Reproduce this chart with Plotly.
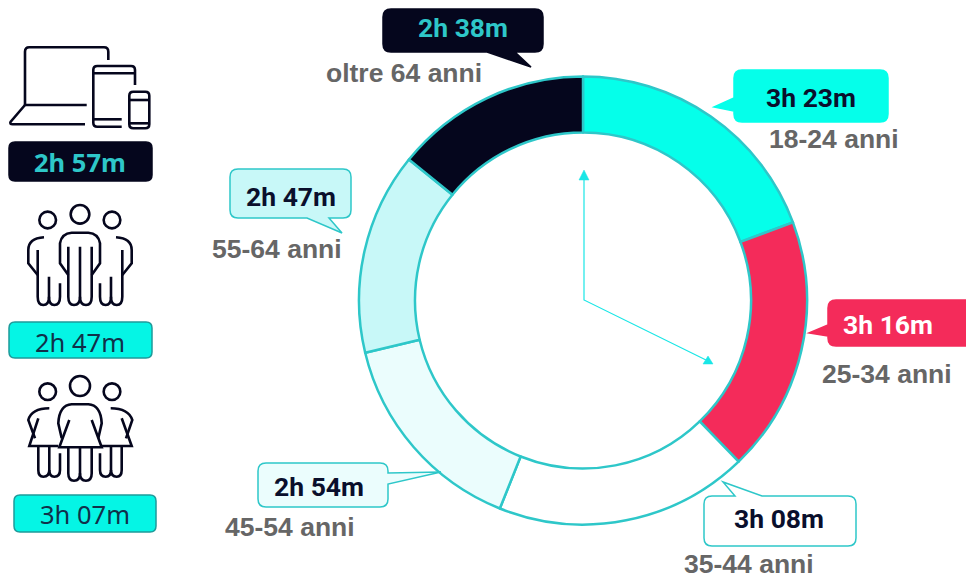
import plotly.graph_objects as go

# ---- data ----
age_groups = ["18-24 anni", "25-34 anni", "35-44 anni", "45-54 anni", "55-64 anni", "oltre 64 anni"]
time_labels = ["3h 23m", "3h 16m", "3h 08m", "2h 54m", "2h 47m", "2h 38m"]
# share of the ring (degrees of arc per slice)
arc_degrees = [69.6, 66.4, 65.8, 54.7, 52.5, 51.0]
slice_colors = ["#05FFEA", "#F42B5A", "#FFFFFF", "#EBFDFD", "#C8F8F8", "#05061D"]
side_values = ["2h 57m", "2h 47m", "3h 07m"]

TEAL = "#2EC7C9"
DARK = "#05061D"
INK = "#0A0F2C"
CYAN = "#05FFEA"
GREY = "#666666"
W, H = 966, 579
CX, CY, R = 583, 300.5, 224

fig = go.Figure()
fig.add_trace(go.Pie(
    values=arc_degrees, labels=age_groups, sort=False, direction="clockwise", rotation=0,
    hole=0.75, textinfo="none", hoverinfo="label",
    marker=dict(colors=slice_colors, line=dict(color=TEAL, width=2.5)),
    domain=dict(x=[(CX - R) / W, (CX + R) / W], y=[1 - (CY + R) / H, 1 - (CY - R) / H]),
    showlegend=False,
))

shapes, annos = [], []


def bubble(x0, y0, x1, y1, tail, fill, line, lw=1.5, r=8):
    """Rounded rectangle with a tail. tail = (side, a, tip_x, tip_y, b)."""
    side, a, tx, ty, b = tail
    d = f"M{x0+r},{y0} "
    if side == "top":
        d += f"L{a},{y0} L{tx},{ty} L{b},{y0} "
    d += f"L{x1-r},{y0} Q{x1},{y0} {x1},{y0+r} L{x1},{y1-r} Q{x1},{y1} {x1-r},{y1} "
    if side == "bottom":
        d += f"L{b},{y1} L{tx},{ty} L{a},{y1} "
    d += f"L{x0+r},{y1} Q{x0},{y1} {x0},{y1-r} "
    if side == "left":
        d += f"L{x0},{b} L{tx},{ty} L{x0},{a} "
    d += f"L{x0},{y0+r} Q{x0},{y0} {x0+r},{y0} Z"
    shapes.append(dict(type="path", path=d, xref="x", yref="y", fillcolor=fill,
                       line=dict(color=line, width=lw), layer="above"))


def bubble_right(x0, y0, x1, y1, a, tx, ty, b, fill, line, lw=1.5, r=8):
    d = (f"M{x0+r},{y0} L{x1-r},{y0} Q{x1},{y0} {x1},{y0+r} L{x1},{a} L{tx},{ty} L{x1},{b} "
         f"L{x1},{y1-r} Q{x1},{y1} {x1-r},{y1} L{x0+r},{y1} Q{x0},{y1} {x0},{y1-r} "
         f"L{x0},{y0+r} Q{x0},{y0} {x0+r},{y0} Z")
    shapes.append(dict(type="path", path=d, xref="x", yref="y", fillcolor=fill,
                       line=dict(color=line, width=lw), layer="above"))


def text(x, y, s, size, color, family="Roboto", bold=True):
    t = f"<b>{s}</b>" if bold else s
    annos.append(dict(x=x, y=y, xref="x", yref="y", text=t, showarrow=False, xanchor="center",
                      yanchor="middle", font=dict(family=family, size=size, color=color)))


# callouts
bubble(383, 9, 543, 52, ("bottom", 487, 531, 67, 515), DARK, DARK)
bubble(734, 70, 888, 122, ("left", 98, 714, 107, 111), CYAN, CYAN)
bubble(828, 300, 975, 346, ("left", 325, 809, 333, 336), "#F42B5A", "#F42B5A")
bubble(704, 496, 856, 546, ("top", 735, 723, 482, 762), "#FFFFFF", TEAL)
bubble_right(258, 463, 388, 507, 473, 441, 472, 484, "#EBFDFD", TEAL)
bubble(230, 169, 351, 218, ("bottom", 307, 342, 233, 329), "#C8F8F8", TEAL)

bubble_text = [(463, 27, TEAL), (811, 97, INK), (888, 324, "#FFFFFF"),
               (779, 518, INK), (319, 486, INK), (291, 196, INK)]
# order of age_groups: 18-24, 25-34, 35-44, 45-54, 55-64, 64+
order = [5, 0, 1, 2, 3, 4]
for (x, y, c), i in zip(bubble_text, order):
    text(x, y, time_labels[i], 26.5, c)

label_pos = [(834, 139), (887, 374), (749, 564), (290, 527), (277, 249), (404, 73)]
for (x, y), s in zip(label_pos, age_groups):
    text(x, y, s, 26.5, GREY, family="Liberation Sans")

# clock hands
HAND = "#19E6E6"
shapes.append(dict(type="path", path="M584,178 L584,300 L706,360", xref="x", yref="y",
                   line=dict(color=HAND, width=1.2), layer="above"))
shapes.append(dict(type="path", path="M584,170 L579,180 L589,180 Z", xref="x", yref="y",
                   fillcolor=HAND, line=dict(color=HAND, width=0.5), layer="above"))
shapes.append(dict(type="path", path="M713,364 L703,364 L708,356 Z", xref="x", yref="y",
                   fillcolor=HAND, line=dict(color=HAND, width=0.5), layer="above"))


# icons, drawn in crop units (3x) then converted to page pixels
def icon(d, oy, lw=2.6):
    out = []
    for tok in d.split():
        cmd = tok[0] if tok[0].isalpha() else ""
        nums = tok[1:] if cmd else tok
        if cmd == "Z":
            out.append("Z")
            continue
        xs, ys = nums.split(",")
        out.append(f"{cmd}{float(xs)/3:.1f},{oy+float(ys)/3:.1f}")
    shapes.append(dict(type="path", path=" ".join(out), xref="x", yref="y",
                       line=dict(color=DARK, width=lw), layer="above"))


def circle(cx, cy, r, oy, lw=2.6):
    shapes.append(dict(type="circle", xref="x", yref="y", x0=(cx-r)/3, x1=(cx+r)/3,
                       y0=oy+(cy-r)/3, y1=oy+(cy+r)/3, line=dict(color=DARK, width=lw), layer="above"))


# devices
for d in [
    "M260,225 L75,225 L75,65 Q75,52 88,52 L312,52 Q325,52 325,65 L325,90",
    "M75,225 L32,275 Q28,283 38,283 L255,283",
    "M405,165 L405,120 Q405,108 393,108 L292,108 Q280,108 280,120 L280,278 Q280,290 292,290 L365,290",
    "M280,130 L405,130",
    "M280,268 L365,268",
    "M400,185 L436,185 Q448,185 448,197 L448,283 Q448,295 436,295 L400,295 Q388,295 388,283 L388,197 Q388,185 400,185 Z",
    "M388,210 L448,210",
    "M388,280 L448,280",
]:
    icon(d, 30)

# men
circle(240, 553, 28, 30)
circle(143, 570, 25, 30)
circle(336, 570, 25, 30)
for d in [
    "M205,735 L180,700 L180,640 Q185,610 215,608 L265,608 Q295,610 300,640 L300,700 L275,735",
    "M205,650 L205,800 Q205,825 222,825 Q240,825 240,800 L240,650",
    "M240,800 Q240,825 258,825 Q275,825 275,800 L275,650",
    "M132,622 Q85,625 85,660 L85,700 L113,735",
    "M113,660 L113,800 Q113,825 130,825 Q147,825 147,800 L147,740",
    "M147,800 Q147,825 163,825 Q180,825 180,800 L180,760",
    "M348,622 Q395,625 395,660 L395,700 L367,735",
    "M367,660 L367,800 Q367,825 350,825 Q333,825 333,800 L333,740",
    "M333,800 Q333,825 317,825 Q300,825 300,800 L300,760",
]:
    icon(d, 30)

# women
circle(240, 228, 30, 310)
circle(143, 245, 25, 310)
circle(336, 245, 25, 310)
for d in [
    "M185,385 L175,340 Q178,285 215,283 L265,283 Q302,285 305,340 L295,385",
    "M208,330 L178,412 L305,412 L275,330",
    "M205,412 L205,490 Q205,512 222,512 Q240,512 240,490 L240,412",
    "M240,490 Q240,512 258,512 Q275,512 275,490 L275,412",
    "M148,295 Q95,295 85,330 L105,385",
    "M115,325 L88,408 L175,408",
    "M115,408 L115,480 Q115,500 130,500 Q148,500 148,480 L148,410",
    "M148,480 Q148,500 163,500 Q180,500 180,480 L180,430",
    "M332,295 Q385,295 397,330 L378,385",
    "M365,325 L395,408 L305,408",
    "M365,408 L365,480 Q365,500 350,500 Q333,500 333,480 L333,410",
    "M333,480 Q333,500 317,500 Q300,500 300,480 L300,430",
]:
    icon(d, 310)

# side pills
bubble_right(9, 142, 152, 181, 160, 152, 160, 160, DARK, DARK, r=6)
bubble_right(9, 322, 152, 358, 340, 152, 340, 340, "#05F5E5", "#1E9A9A", r=6)
bubble_right(14, 495, 156, 532, 513, 156, 513, 513, "#05F5E5", "#1E9A9A", r=6)
text(80, 162, side_values[0], 25.5, TEAL, family="Noto Sans", bold=True)
text(80, 342, side_values[1], 25.5, "#10304A", family="Noto Sans", bold=False)
text(85, 514, side_values[2], 25.5, "#10304A", family="Noto Sans", bold=False)

fig.update_layout(
    width=W, height=H, margin=dict(l=0, r=0, t=0, b=0),
    paper_bgcolor="white", plot_bgcolor="rgba(0,0,0,0)", showlegend=False,
    xaxis=dict(range=[0, W], visible=False, fixedrange=True),
    yaxis=dict(range=[H, 0], visible=False, fixedrange=True),
    shapes=shapes, annotations=annos,
)
fig.write_html("out.html", config=dict(displayModeBar=False),
               post_script="document.body.style.margin='0';document.body.style.overflow='hidden';")
